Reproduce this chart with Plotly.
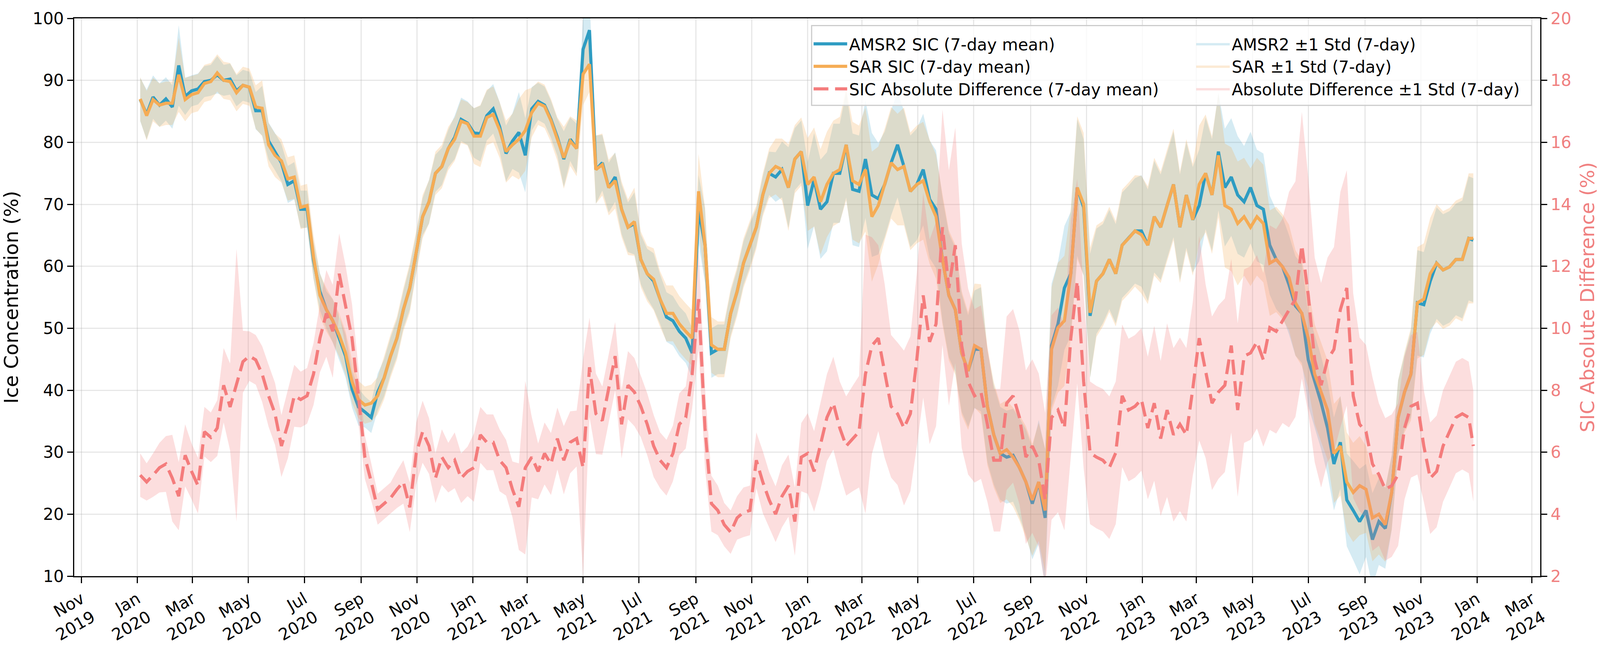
import numpy as np
import pandas as pd
import plotly.graph_objects as go

dates = list(pd.date_range("2020-01-04", "2023-12-23", freq="7D")) + [pd.Timestamp("2023-12-28")]

amsr2_mean = [
    # 2020
    86.9, 84.5, 87.3, 86.0, 87.0, 85.7, 92.4, 87.4, 88.3, 88.6, 89.8, 90.0, 90.9,
    90.0, 90.2, 88.3, 89.2, 88.9, 85.1, 85.1, 80.2, 78.5, 76.7, 73.2, 73.8, 69.2,
    69.2, 61.0, 55.9, 53.0, 51.2, 48.4, 45.5, 40.2, 37.3, 36.5, 35.6, 39.7, 42.0,
    45.5, 48.4, 53.0, 56.5, 62.2, 68.0, 70.4, 75.0, 76.1, 79.0, 80.8, 83.7, 83.1,
    # 2021
    81.5, 81.4, 84.3, 85.4, 82.5, 78.2, 80.2, 81.6, 77.9, 85.4, 86.6, 86.0, 83.7,
    80.8, 77.3, 80.5, 79.0, 95.0, 98.1, 75.6, 76.7, 72.7, 74.4, 69.2, 66.3, 66.9,
    61.1, 58.8, 57.6, 54.7, 51.8, 51.2, 49.5, 48.4, 46.0, 69.2, 63.4, 46.0, 46.6,
    46.6, 52.4, 55.9, 60.5, 63.4, 66.3, 71.5, 75.0, 74.4, 75.6, 72.7, 77.3, 78.5,
    # 2022
    69.8, 74.0, 69.2, 70.4, 75.0, 75.0, 79.6, 72.4, 72.1, 77.3, 71.5, 70.9, 73.2,
    76.7, 79.6, 76.1, 72.1, 73.2, 75.6, 70.8, 69.2, 61.1, 55.3, 53.0, 46.0, 43.1,
    46.6, 46.6, 37.4, 32.8, 29.8, 29.2, 29.5, 27.5, 25.2, 21.7, 25.2, 19.4, 47.2,
    50.7, 56.5, 58.8, 72.7, 69.5, 52.0, 57.6, 58.8, 61.1, 58.8, 63.4, 64.5, 65.7, 65.7,
    # 2023
    63.4, 68.0, 66.3, 69.8, 73.2, 66.3, 71.5, 67.5, 69.8, 75.0, 71.5, 78.5,
    72.7, 74.4, 71.5, 70.4, 72.7, 69.8, 69.2, 63.4, 61.1, 59.9, 57.0, 53.6, 52.4,
    44.9, 41.4, 38.0, 33.9, 28.1, 31.6, 22.3, 20.6, 18.8, 20.6, 15.9, 18.8, 17.7, 23.5,
    35.6, 39.7, 42.6, 54.1, 53.8, 57.6, 60.5, 59.4, 59.9, 61.1, 61.1, 64.5, 64.2,
]

sar_mean = [
    # 2020
    87.0, 84.3, 86.9, 86.0, 86.3, 86.3, 90.9, 86.9, 87.7, 88.0, 89.5, 89.8, 91.2,
    90.0, 89.8, 88.0, 89.2, 88.9, 85.7, 85.5, 79.6, 77.9, 77.0, 74.1, 74.4, 69.5,
    69.8, 61.5, 55.3, 53.0, 51.2, 48.9, 46.0, 41.4, 38.5, 37.6, 37.9, 39.1, 42.0,
    45.5, 48.4, 53.0, 56.5, 62.2, 68.0, 70.4, 75.0, 76.1, 79.0, 80.5, 83.4, 83.0,
    # 2021
    81.0, 81.0, 84.0, 84.5, 82.0, 78.5, 79.6, 80.5, 81.9, 84.8, 86.3, 85.8, 83.5,
    80.5, 77.5, 80.2, 79.0, 91.0, 92.6, 75.6, 76.4, 72.7, 73.8, 69.2, 66.3, 67.2,
    61.1, 58.8, 57.9, 54.7, 52.4, 52.4, 50.7, 49.5, 48.4, 72.1, 63.4, 47.3, 46.6,
    46.6, 52.4, 55.9, 60.5, 63.4, 66.3, 71.5, 75.0, 76.1, 75.6, 72.7, 77.3, 78.5,
    # 2022
    73.2, 74.4, 70.4, 73.2, 75.0, 75.6, 79.6, 73.8, 73.2, 75.6, 68.0, 69.8, 73.2,
    76.7, 75.6, 76.1, 72.1, 73.2, 73.8, 70.4, 68.0, 61.1, 55.3, 53.0, 46.0, 43.1,
    47.2, 46.6, 37.4, 32.8, 29.8, 30.4, 29.2, 27.5, 25.2, 22.3, 25.2, 20.6, 46.6,
    50.1, 51.2, 58.8, 72.7, 70.0, 52.5, 57.6, 58.8, 61.1, 58.8, 63.4, 64.5, 65.7, 65.1,
    # 2023
    63.4, 68.0, 66.3, 69.8, 73.2, 66.3, 71.5, 67.5, 73.2, 75.0, 71.5, 77.9,
    69.8, 69.2, 66.9, 68.0, 66.3, 68.0, 66.9, 60.5, 61.1, 59.9, 58.2, 54.1, 52.4,
    48.4, 42.6, 39.7, 36.8, 29.8, 31.0, 25.2, 23.5, 24.6, 24.0, 19.4, 20.0, 18.3, 23.5,
    35.6, 39.7, 42.6, 54.1, 54.7, 58.8, 60.5, 59.4, 59.9, 61.1, 61.1, 64.5, 64.5,
]

diff_mean = [
    # 2020
    5.26, 5.04, 5.26, 5.5, 5.62, 5.16, 4.58, 5.9, 5.38, 4.92, 6.66, 6.48, 6.78,
    8.16, 7.46, 8.16, 8.92, 9.1, 8.98, 8.52, 7.82, 7.24, 6.2, 6.9, 7.82, 7.7,
    7.82, 8.52, 9.68, 10.48, 9.9, 11.76, 10.72, 9.68, 7.82, 5.84, 5.04, 4.16, 4.34,
    4.52, 4.8, 5.04, 4.22, 5.96, 6.66, 6.2, 5.16, 5.84, 5.5, 5.74, 5.16, 5.38,
    # 2021
    5.5, 6.56, 6.32, 6.32, 5.74, 5.5, 4.8, 4.24, 5.5, 5.84, 5.38, 5.96, 5.62,
    6.44, 5.74, 6.32, 6.44, 5.5, 8.74, 7.24, 7.02, 8.06, 9.1, 6.9, 8.16, 7.94,
    7.48, 6.9, 6.2, 5.74, 5.5, 5.96, 6.9, 7.12, 8.52, 10.94, 6.78, 4.34, 4.12,
    3.66, 3.42, 3.88, 4.06, 4.12, 5.74, 5.04, 4.46, 4.0, 4.58, 4.92, 3.76, 5.84,
    # 2022
    5.96, 5.38, 6.2, 7.12, 7.58, 6.78, 6.2, 6.44, 6.66, 8.52, 9.44, 9.68, 8.62,
    7.48, 7.24, 6.78, 7.24, 8.98, 11.06, 9.56, 10.14, 13.26, 11.3, 12.68, 9.44, 8.28,
    7.82, 7.94, 6.9, 5.74, 5.74, 7.58, 7.82, 7.12, 5.84, 6.2, 5.74, 4.46, 7.12,
    7.36, 6.78, 9.68, 11.52, 8.28, 5.98, 5.84, 5.74, 5.5, 5.98, 7.82, 7.36, 7.48, 7.7,
    # 2023
    6.78, 7.58, 6.44, 7.36, 6.56, 6.9, 6.56, 8.04, 9.68, 8.62, 7.58, 7.94,
    8.16, 9.44, 7.36, 9.1, 9.2, 9.56, 8.98, 10.02, 9.9, 10.24, 10.6, 10.94, 12.68,
    11.06, 8.98, 8.16, 8.98, 9.32, 10.6, 11.3, 7.82, 6.9, 6.66, 5.62, 5.28, 4.8, 4.92,
    5.28, 6.78, 7.48, 7.58, 6.2, 5.16, 5.38, 6.2, 6.66, 7.12, 7.24, 7.12, 6.2,
]

amsr2_std = [
    # 2020
    3.5, 4.0, 3.5, 3.5, 3.5, 3.5, 6.5, 3.0, 2.5, 2.5, 2.5, 2.5, 3.0,
    2.5, 2.5, 2.5, 2.5, 2.5, 3.0, 4.0, 3.0, 3.0, 3.0, 3.0, 3.0, 3.0,
    3.0, 3.0, 3.0, 3.0, 3.5, 3.5, 3.5, 3.0, 3.0, 2.5, 2.5, 3.0, 3.0,
    3.0, 3.0, 3.0, 3.5, 3.0, 3.0, 3.5, 3.0, 3.0, 3.0, 3.5, 3.5, 3.5,
    # 2021
    4.0, 4.5, 4.0, 4.0, 4.0, 4.5, 4.5, 6.5, 6.0, 3.5, 3.0, 3.0, 3.0,
    3.0, 4.5, 3.5, 4.0, 5.0, 5.0, 5.5, 4.5, 4.0, 4.0, 4.0, 4.0, 5.0,
    4.0, 4.0, 4.5, 4.0, 4.0, 4.0, 4.0, 4.0, 4.0, 5.5, 6.0, 4.0, 4.0,
    4.0, 3.5, 3.5, 3.5, 3.5, 3.0, 3.0, 3.5, 4.0, 4.5, 6.5, 5.0, 5.0,
    # 2022
    7.0, 7.5, 8.0, 8.0, 8.0, 8.0, 8.5, 9.0, 9.0, 9.5, 10.0, 9.0, 8.5,
    8.5, 8.5, 9.0, 9.0, 9.0, 9.0, 9.5, 9.5, 10.0, 10.0, 10.0, 9.5, 9.0,
    9.5, 10.0, 9.0, 8.0, 7.5, 7.5, 7.5, 8.0, 8.5, 9.0, 10.0, 11.0, 10.0,
    10.0, 10.0, 10.0, 11.0, 11.0, 10.0, 8.5, 8.0, 8.0, 8.0, 8.5, 8.5, 8.5, 9.0,
    # 2023
    9.0, 9.0, 8.5, 8.5, 8.5, 8.5, 8.5, 8.5, 9.0, 9.0, 9.0, 9.5,
    9.5, 9.5, 9.5, 9.0, 9.0, 9.0, 9.0, 8.0, 8.0, 8.0, 8.0, 8.0, 8.0,
    7.5, 7.5, 7.5, 7.5, 7.5, 7.5, 7.5, 8.0, 8.5, 7.5, 7.5, 7.0, 6.5, 6.0,
    6.0, 6.0, 7.0, 8.5, 8.5, 8.5, 9.0, 9.0, 9.0, 9.0, 9.5, 10.0, 10.0,
]

sar_std = [
    # 2020
    3.5, 4.0, 3.5, 3.5, 3.5, 3.5, 6.0, 3.5, 3.0, 3.0, 3.0, 3.0, 3.0,
    3.0, 3.0, 3.0, 3.0, 3.0, 3.5, 4.5, 3.5, 3.5, 3.5, 3.5, 3.5, 3.5,
    3.5, 3.5, 3.5, 3.5, 3.5, 3.5, 3.5, 3.5, 3.0, 3.0, 3.0, 3.0, 3.5,
    3.5, 3.5, 3.5, 4.0, 3.5, 3.5, 3.5, 3.5, 3.5, 3.5, 3.5, 3.5, 3.5,
    # 2021
    4.5, 5.0, 4.5, 4.5, 4.5, 5.0, 5.0, 6.5, 6.5, 4.0, 3.5, 3.5, 3.5,
    3.5, 5.0, 4.0, 4.5, 5.0, 4.5, 5.5, 5.0, 4.5, 4.5, 4.5, 4.5, 5.5,
    4.5, 4.5, 5.0, 4.5, 4.5, 4.5, 4.5, 4.5, 4.5, 6.0, 6.0, 4.5, 4.5,
    4.5, 4.0, 4.0, 4.0, 4.0, 3.5, 3.5, 4.0, 4.5, 5.0, 7.0, 5.5, 5.5,
    # 2022
    7.5, 8.0, 8.5, 8.5, 8.5, 8.5, 9.0, 9.5, 9.5, 10.0, 10.5, 9.5, 9.0,
    9.0, 9.0, 9.5, 9.5, 9.5, 9.5, 10.0, 10.0, 10.5, 10.5, 10.5, 10.0, 9.5,
    10.0, 10.5, 9.5, 8.5, 8.0, 8.0, 8.0, 8.5, 9.0, 9.0, 9.5, 10.0, 10.0,
    10.5, 10.5, 10.5, 11.5, 11.5, 10.5, 9.0, 8.5, 8.5, 8.5, 9.0, 9.0, 9.0, 9.5,
    # 2023
    9.5, 9.5, 9.0, 9.0, 9.0, 9.0, 9.0, 9.0, 9.5, 9.5, 9.5, 10.0,
    10.0, 10.0, 10.0, 9.5, 9.5, 9.5, 9.5, 8.5, 8.5, 8.5, 8.5, 8.5, 8.5,
    8.0, 8.0, 8.0, 8.0, 8.0, 8.0, 8.0, 8.0, 8.0, 7.0, 7.0, 6.5, 6.0, 6.0,
    6.0, 6.5, 7.5, 9.0, 9.0, 9.0, 9.5, 9.5, 9.5, 9.5, 10.0, 10.5, 10.5,
]

diff_std = [
    # 2020
    0.7, 0.6, 0.7, 0.8, 0.9, 1.4, 1.1, 1.0, 0.9, 0.9, 0.8, 0.8, 0.9,
    1.2, 1.4, 4.4, 1.0, 0.8, 0.8, 0.9, 1.0, 1.0, 1.0, 1.1, 1.0, 0.9,
    0.9, 1.0, 1.1, 1.4, 1.5, 1.3, 1.3, 1.1, 0.9, 0.7, 0.6, 0.5, 0.5,
    0.5, 0.6, 0.7, 0.8, 1.0, 1.0, 0.9, 0.8, 0.9, 0.8, 0.9, 0.8, 0.8,
    # 2021
    1.1, 0.9, 0.9, 0.9, 1.0, 0.9, 0.9, 1.4, 2.8, 1.3, 0.9, 1.0, 1.0,
    1.0, 1.1, 1.0, 0.9, 3.5, 1.6, 1.3, 1.1, 1.1, 1.1, 1.1, 1.1, 1.1,
    1.0, 1.0, 1.0, 0.9, 0.9, 0.9, 1.0, 1.0, 1.1, 1.6, 1.3, 0.9, 0.8,
    0.7, 0.7, 0.7, 0.8, 0.8, 0.9, 1.0, 0.9, 0.9, 1.0, 1.0, 1.1, 1.1,
    # 2022
    1.3, 1.3, 1.4, 1.4, 1.5, 1.5, 1.6, 1.7, 1.8, 4.5, 3.5, 3.0, 2.8,
    2.3, 2.3, 2.5, 2.5, 2.8, 3.3, 3.3, 3.3, 3.8, 3.8, 3.8, 3.3, 3.0,
    2.8, 2.8, 2.5, 2.3, 2.3, 2.8, 2.8, 2.8, 2.8, 2.8, 2.8, 2.8, 3.3,
    3.3, 3.3, 3.8, 3.3, 2.8, 2.3, 2.3, 2.3, 2.3, 2.3, 2.3, 2.3, 2.3, 2.3,
    # 2023
    2.3, 2.5, 2.5, 2.8, 2.8, 2.8, 2.8, 2.8, 3.3, 2.8, 2.8, 2.8,
    2.8, 2.8, 2.8, 2.8, 2.8, 2.8, 2.8, 3.3, 3.3, 3.3, 3.8, 3.8, 4.3,
    3.8, 3.3, 3.3, 3.3, 3.3, 3.8, 3.8, 3.3, 2.8, 2.8, 2.8, 2.3, 2.3, 2.3,
    2.3, 2.3, 2.3, 2.3, 1.8, 1.8, 1.8, 1.8, 1.8, 1.8, 1.8, 1.8, 1.8,
]

for arr in (amsr2_mean, sar_mean, diff_mean, amsr2_std, sar_std, diff_std):
    assert len(arr) == len(dates), len(arr)

x_ticks = pd.date_range("2019-11-01", "2024-03-01", freq="2MS")
x_ticktext = [d.strftime("%b<br>%Y") for d in x_ticks]

AMSR2_COLOR = "#2E9CC2"
SAR_COLOR = "#F5AC55"
DIFF_COLOR = "#F47C7C"
DIFF_LABEL = "#F08080"
FONT = "DejaVu Sans"
GRID = "rgba(176,176,176,0.3)"

# the browser viewport is narrower than 4305 px, so the page is laid out at 4096 wide
W, H = 4096, 1682

amsr2_mean = np.array(amsr2_mean)
sar_mean = np.array(sar_mean)
diff_mean = np.array(diff_mean)
amsr2_std = np.array(amsr2_std)
sar_std = np.array(sar_std)
diff_std = np.array(diff_std)

fig = go.Figure()


def add_band(mean, std, fillcolor, name, yaxis="y"):
    fig.add_trace(go.Scatter(x=dates, y=mean - std, mode="lines", line=dict(width=0),
                             showlegend=False, hoverinfo="skip", yaxis=yaxis))
    fig.add_trace(go.Scatter(x=dates, y=mean + std, mode="lines", line=dict(width=0),
                             fill="tonexty", fillcolor=fillcolor, name=name,
                             legend="legend2", yaxis=yaxis))


add_band(amsr2_mean, amsr2_std, "rgba(46,156,194,0.2)", "AMSR2 ±1 Std (7-day)")
add_band(sar_mean, sar_std, "rgba(245,172,85,0.25)", "SAR ±1 Std (7-day)")
fig.add_trace(go.Scatter(x=dates, y=amsr2_mean, mode="lines", name="AMSR2 SIC (7-day mean)",
                         line=dict(color=AMSR2_COLOR, width=8)))
fig.add_trace(go.Scatter(x=dates, y=sar_mean, mode="lines", name="SAR SIC (7-day mean)",
                         line=dict(color=SAR_COLOR, width=8)))
add_band(diff_mean, diff_std, "rgba(244,124,124,0.25)", "Absolute Difference ±1 Std (7-day)", "y2")
fig.add_trace(go.Scatter(x=dates, y=diff_mean, mode="lines", yaxis="y2",
                         name="SIC Absolute Difference (7-day mean)",
                         line=dict(color=DIFF_COLOR, width=8, dash="38px,17px")))

axis_common = dict(
    showline=True, linecolor="black", linewidth=3,
    ticks="outside", ticklen=15, tickwidth=3, tickcolor="black",
    zeroline=False,
)
legend_common = dict(
    yanchor="top", y=0.978, xanchor="left",
    bgcolor="rgba(0,0,0,0)", borderwidth=0, itemwidth=86,
    tracegroupgap=10, font=dict(size=42), traceorder="normal",
)

fig.update_layout(
    width=W, height=H,
    margin=dict(l=190, r=153, t=47, b=207),
    paper_bgcolor="white", plot_bgcolor="white",
    font=dict(family=FONT, size=42, color="black"),
    xaxis=dict(
        **axis_common, mirror=True, range=["2019-10-24", "2024-03-10"],
        tickvals=x_ticks, ticktext=x_ticktext, tickangle=-30,
        showgrid=True, gridcolor=GRID, gridwidth=3,
    ),
    yaxis=dict(
        **axis_common, range=[10, 100], dtick=10,
        showgrid=True, gridcolor=GRID, gridwidth=3,
        title=dict(text="Ice Concentration (%)", standoff=25),
    ),
    yaxis2=dict(
        **axis_common, overlaying="y", side="right", range=[2, 20], dtick=2,
        showgrid=False,
        title=dict(text="SIC Absolute Difference (%)", font=dict(color=DIFF_LABEL), standoff=25),
        tickfont=dict(color=DIFF_LABEL),
    ),
    legend=dict(**legend_common, x=0.503),
    legend2=dict(**legend_common, x=0.764),
    shapes=[dict(
        type="rect", xref="paper", yref="paper", x0=0.503, x1=0.994, y0=0.844, y1=0.987,
        fillcolor="rgba(255,255,255,0.8)", line=dict(color="#cccccc", width=3), layer="above",
    )],
)

fig.write_html(
    "out.html",
    config={"displayModeBar": False},
    post_script="document.body.style.margin='0px';",
)
